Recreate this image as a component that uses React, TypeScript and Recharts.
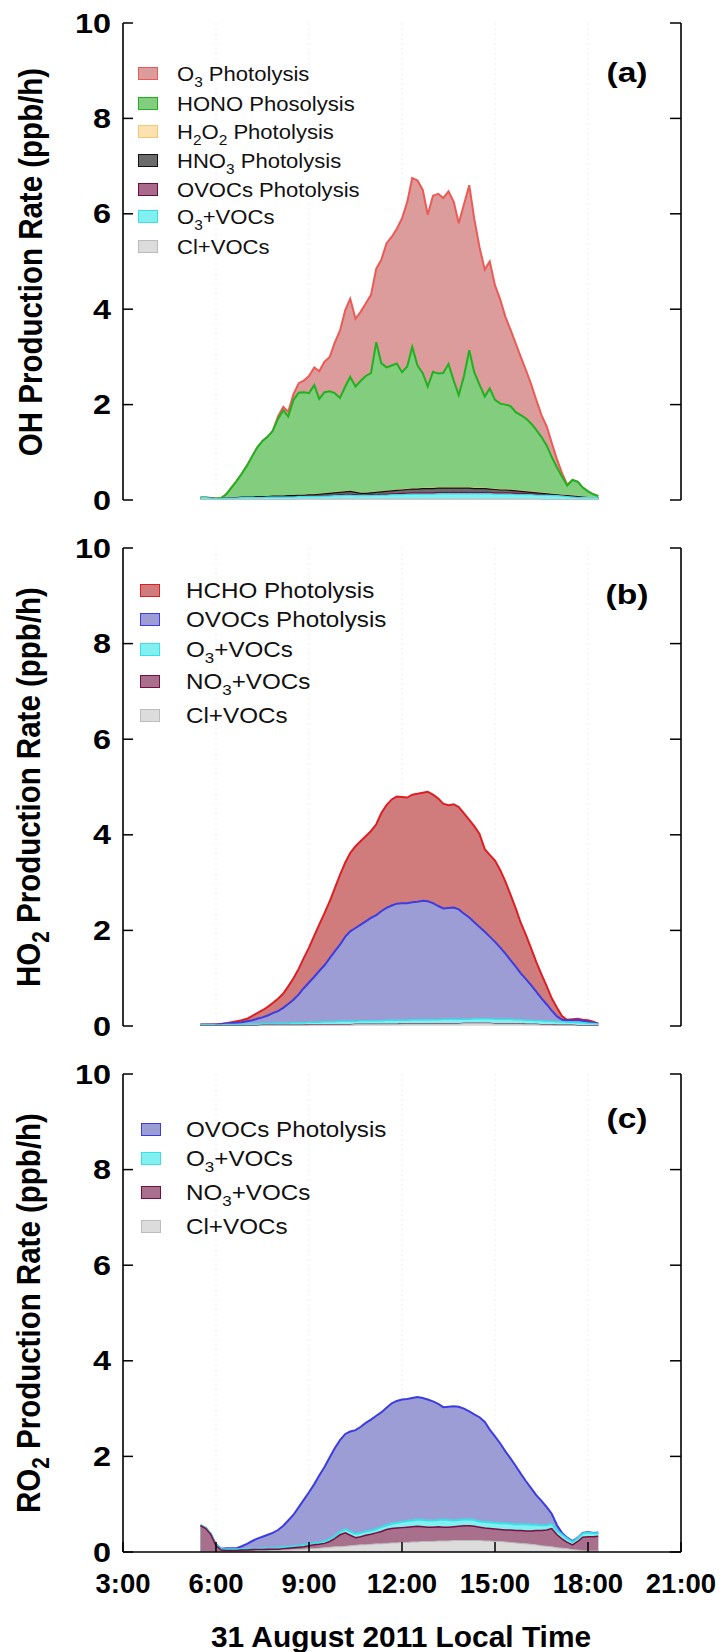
import { AreaChart, Area, XAxis, YAxis, CartesianGrid } from 'recharts';

// time of day in hours (10-min steps), shared by all three panels
const hours = [
  5.5, 5.67, 5.83,
  6, 6.17, 6.33, 6.5, 6.67, 6.83,
  7, 7.17, 7.33, 7.5, 7.67, 7.83,
  8, 8.17, 8.33, 8.5, 8.67, 8.83,
  9, 9.17, 9.33, 9.5, 9.67, 9.83,
  10, 10.17, 10.33, 10.5, 10.67, 10.83,
  11, 11.17, 11.33, 11.5, 11.67, 11.83,
  12, 12.17, 12.33, 12.5, 12.67, 12.83,
  13, 13.17, 13.33, 13.5, 13.67, 13.83,
  14, 14.17, 14.33, 14.5, 14.67, 14.83,
  15, 15.17, 15.33, 15.5, 15.67, 15.83,
  16, 16.17, 16.33, 16.5, 16.67, 16.83,
  17, 17.17, 17.33, 17.5, 17.67, 17.83,
  18, 18.17, 18.33,
];

const timeTicks = [3, 6, 9, 12, 15, 18, 21];
const timeLabels = ['3:00', '6:00', '9:00', '12:00', '15:00', '18:00', '21:00'];
const rateTicks = [0, 2, 4, 6, 8, 10];

// values are the stacked top of each layer (ppb/h)
// (a) OH
const ohO3Phot = [
  0.05, 0.05, 0.04,
  0.03, 0.04, 0.12, 0.26, 0.4, 0.55,
  0.72, 0.92, 1.1, 1.24, 1.33, 1.45,
  1.75, 1.95, 1.85, 2.22, 2.45, 2.5,
  2.6, 2.78, 2.7, 2.9, 3.0, 3.3,
  3.55, 3.98, 4.22, 3.8, 3.95, 4.12,
  4.3, 4.85, 5.03, 5.38, 5.52, 5.68,
  5.9, 6.25, 6.75, 6.7, 6.5, 5.98,
  6.38, 6.42, 6.33, 6.47, 6.25, 5.8,
  6.2, 6.6, 5.9, 5.3, 4.83, 5.0,
  4.5, 4.2, 3.85, 3.57, 3.28, 3.0,
  2.72, 2.42, 2.1, 1.78, 1.54, 1.2,
  0.85, 0.55, 0.32, 0.42, 0.38, 0.26,
  0.18, 0.12, 0.08,
];
const ohHono = [
  0.05, 0.05, 0.04,
  0.03, 0.04, 0.12, 0.26, 0.4, 0.55,
  0.72, 0.92, 1.1, 1.24, 1.33, 1.45,
  1.7, 1.88, 1.75, 2.1, 2.25, 2.26,
  2.24, 2.41, 2.12, 2.26, 2.28, 2.24,
  2.14, 2.38, 2.58, 2.38, 2.5, 2.6,
  2.66, 3.31, 2.87, 2.78, 2.82, 2.86,
  2.68, 2.8, 3.21, 2.82, 2.66, 2.38,
  2.69, 2.65, 2.66, 2.85, 2.5, 2.2,
  2.6, 3.14, 2.68, 2.42, 2.17, 2.34,
  2.1, 2.02, 2.0, 1.97, 1.84, 1.78,
  1.71, 1.6, 1.47, 1.32, 1.14, 0.9,
  0.68, 0.48, 0.3, 0.42, 0.38, 0.26,
  0.18, 0.12, 0.08,
];
const ohH2o2 = [
  0.05, 0.05, 0.04,
  0.03, 0.03, 0.04, 0.05, 0.05, 0.06,
  0.06, 0.06, 0.07, 0.07, 0.07, 0.08,
  0.08, 0.08, 0.09, 0.09, 0.1, 0.1,
  0.11, 0.11, 0.12, 0.13, 0.14, 0.16,
  0.17, 0.18, 0.19, 0.17, 0.15, 0.15,
  0.16, 0.17, 0.18, 0.19, 0.2, 0.21,
  0.22, 0.23, 0.24, 0.24, 0.25, 0.25,
  0.25, 0.26, 0.26, 0.26, 0.26, 0.26,
  0.26, 0.26, 0.25, 0.25, 0.25, 0.24,
  0.23, 0.22, 0.22, 0.21, 0.2, 0.19,
  0.18, 0.17, 0.16, 0.15, 0.14, 0.13,
  0.12, 0.11, 0.1, 0.09, 0.08, 0.07,
  0.06, 0.06, 0.05,
];
const ohHno3 = [
  0.05, 0.05, 0.04,
  0.03, 0.03, 0.04, 0.05, 0.05, 0.06,
  0.06, 0.06, 0.07, 0.07, 0.07, 0.08,
  0.08, 0.08, 0.09, 0.09, 0.1, 0.1,
  0.11, 0.11, 0.12, 0.13, 0.14, 0.15,
  0.16, 0.17, 0.18, 0.16, 0.14, 0.14,
  0.15, 0.16, 0.17, 0.18, 0.19, 0.2,
  0.21, 0.22, 0.23, 0.23, 0.24, 0.24,
  0.24, 0.25, 0.25, 0.25, 0.25, 0.25,
  0.25, 0.25, 0.24, 0.24, 0.24, 0.23,
  0.22, 0.21, 0.21, 0.2, 0.19, 0.18,
  0.17, 0.16, 0.15, 0.14, 0.13, 0.12,
  0.11, 0.1, 0.09, 0.08, 0.07, 0.06,
  0.05, 0.05, 0.05,
];
const ohOvoc = [
  0.05, 0.05, 0.04,
  0.03, 0.03, 0.04, 0.05, 0.05, 0.05,
  0.05, 0.05, 0.06, 0.06, 0.06, 0.06,
  0.06, 0.06, 0.07, 0.07, 0.07, 0.07,
  0.08, 0.08, 0.08, 0.09, 0.1, 0.1,
  0.11, 0.12, 0.12, 0.11, 0.1, 0.1,
  0.11, 0.11, 0.12, 0.12, 0.13, 0.13,
  0.14, 0.14, 0.15, 0.15, 0.15, 0.15,
  0.15, 0.16, 0.16, 0.16, 0.16, 0.16,
  0.16, 0.16, 0.16, 0.16, 0.16, 0.16,
  0.15, 0.15, 0.15, 0.15, 0.14, 0.14,
  0.13, 0.13, 0.12, 0.12, 0.11, 0.1,
  0.1, 0.09, 0.08, 0.07, 0.06, 0.05,
  0.05, 0.05, 0.05,
];
const ohO3Voc = [
  0.05, 0.05, 0.04,
  0.03, 0.03, 0.04, 0.04, 0.04, 0.05,
  0.05, 0.05, 0.05, 0.05, 0.06, 0.06,
  0.06, 0.06, 0.06, 0.06, 0.07, 0.07,
  0.07, 0.07, 0.07, 0.08, 0.08, 0.09,
  0.09, 0.1, 0.1, 0.09, 0.09, 0.09,
  0.09, 0.1, 0.1, 0.1, 0.11, 0.11,
  0.11, 0.12, 0.12, 0.12, 0.12, 0.12,
  0.12, 0.13, 0.13, 0.13, 0.13, 0.13,
  0.13, 0.13, 0.13, 0.13, 0.13, 0.13,
  0.12, 0.12, 0.12, 0.12, 0.11, 0.11,
  0.11, 0.11, 0.1, 0.1, 0.1, 0.09,
  0.09, 0.08, 0.07, 0.06, 0.05, 0.05,
  0.05, 0.05, 0.05,
];
const ohClVoc = [
  0.01, 0.01, 0.01,
  0.01, 0.01, 0.01, 0.01, 0.01, 0.01,
  0.01, 0.01, 0.01, 0.01, 0.01, 0.01,
  0.01, 0.01, 0.01, 0.01, 0.02, 0.02,
  0.02, 0.02, 0.02, 0.02, 0.02, 0.02,
  0.02, 0.02, 0.02, 0.02, 0.02, 0.02,
  0.02, 0.02, 0.02, 0.02, 0.02, 0.02,
  0.02, 0.02, 0.02, 0.02, 0.02, 0.02,
  0.02, 0.02, 0.02, 0.02, 0.02, 0.02,
  0.02, 0.02, 0.02, 0.02, 0.02, 0.02,
  0.02, 0.02, 0.02, 0.02, 0.02, 0.02,
  0.02, 0.02, 0.02, 0.01, 0.01, 0.01,
  0.01, 0.01, 0.01, 0.01, 0.01, 0.01,
  0.01, 0.01, 0.01,
];

// (b) HO2
const ho2Hcho = [
  0.03, 0.03, 0.03,
  0.03, 0.04, 0.06, 0.08, 0.1, 0.12,
  0.15, 0.21, 0.27, 0.33, 0.4, 0.48,
  0.57, 0.68, 0.83, 1.0, 1.2, 1.42,
  1.64, 1.89, 2.12, 2.36, 2.61, 2.88,
  3.16, 3.42, 3.62, 3.76, 3.87, 3.97,
  4.08, 4.22, 4.45, 4.62, 4.74, 4.8,
  4.79, 4.78, 4.84, 4.86, 4.88, 4.9,
  4.84, 4.76, 4.65, 4.62, 4.64, 4.58,
  4.45, 4.31, 4.18, 4.02, 3.7, 3.58,
  3.46, 3.26, 3.03, 2.75, 2.46, 2.16,
  1.9, 1.62, 1.34, 1.08, 0.83, 0.58,
  0.38, 0.2, 0.13, 0.14, 0.15, 0.13,
  0.12, 0.09, 0.05,
];
const ho2Ovoc = [
  0.03, 0.03, 0.03,
  0.03, 0.04, 0.05, 0.06, 0.07, 0.08,
  0.1, 0.12, 0.15, 0.18, 0.22, 0.27,
  0.31, 0.38, 0.46, 0.55, 0.66, 0.79,
  0.91, 1.03, 1.15, 1.27, 1.42, 1.56,
  1.7, 1.87, 1.98, 2.05, 2.12, 2.19,
  2.26, 2.32, 2.4, 2.47, 2.52, 2.56,
  2.57, 2.57, 2.59, 2.6, 2.62, 2.61,
  2.57, 2.51, 2.46, 2.47, 2.48, 2.44,
  2.35, 2.27, 2.17, 2.07, 1.97, 1.87,
  1.76, 1.64, 1.52, 1.38, 1.24, 1.1,
  0.98, 0.85, 0.72, 0.58, 0.45, 0.32,
  0.2, 0.13, 0.12, 0.12, 0.13, 0.11,
  0.09, 0.07, 0.05,
];
const ho2O3Voc = [
  0.03, 0.03, 0.03,
  0.02, 0.02, 0.03, 0.03, 0.03, 0.03,
  0.04, 0.04, 0.04, 0.05, 0.05, 0.05,
  0.06, 0.06, 0.06, 0.07, 0.07, 0.07,
  0.08, 0.08, 0.08, 0.09, 0.09, 0.09,
  0.1, 0.1, 0.1, 0.1, 0.11, 0.11,
  0.11, 0.11, 0.11, 0.12, 0.12, 0.12,
  0.12, 0.12, 0.13, 0.13, 0.13, 0.13,
  0.13, 0.13, 0.14, 0.14, 0.14, 0.14,
  0.14, 0.14, 0.15, 0.15, 0.15, 0.15,
  0.14, 0.14, 0.14, 0.14, 0.13, 0.13,
  0.12, 0.12, 0.11, 0.11, 0.1, 0.1,
  0.09, 0.09, 0.08, 0.08, 0.07, 0.07,
  0.06, 0.05, 0.04,
];
const ho2No3Voc = [
  0.01, 0.01, 0.01,
  0.01, 0.01, 0.01, 0.01, 0.01, 0.01,
  0.01, 0.01, 0.01, 0.02, 0.02, 0.02,
  0.02, 0.02, 0.02, 0.02, 0.02, 0.02,
  0.03, 0.03, 0.03, 0.03, 0.03, 0.03,
  0.03, 0.03, 0.03, 0.04, 0.04, 0.04,
  0.04, 0.04, 0.04, 0.04, 0.04, 0.04,
  0.05, 0.05, 0.05, 0.05, 0.05, 0.05,
  0.05, 0.05, 0.05, 0.05, 0.05, 0.05,
  0.06, 0.06, 0.06, 0.06, 0.06, 0.06,
  0.05, 0.05, 0.05, 0.05, 0.05, 0.05,
  0.04, 0.04, 0.04, 0.03, 0.03, 0.03,
  0.02, 0.02, 0.02, 0.02, 0.01, 0.01,
  0.01, 0.01, 0.01,
];
const ho2ClVoc = [
  0, 0, 0,
  0, 0, 0, 0, 0, 0,
  0, 0, 0, 0.01, 0.01, 0.01,
  0.01, 0.01, 0.01, 0.01, 0.01, 0.01,
  0.02, 0.02, 0.02, 0.02, 0.02, 0.02,
  0.02, 0.02, 0.02, 0.03, 0.03, 0.03,
  0.03, 0.03, 0.03, 0.03, 0.03, 0.03,
  0.04, 0.04, 0.04, 0.04, 0.04, 0.04,
  0.04, 0.04, 0.04, 0.04, 0.04, 0.04,
  0.05, 0.05, 0.05, 0.05, 0.05, 0.05,
  0.04, 0.04, 0.04, 0.04, 0.04, 0.04,
  0.03, 0.03, 0.03, 0.02, 0.02, 0.02,
  0.01, 0.01, 0.01, 0.01, 0, 0,
  0, 0, 0,
];

// (c) RO2
const ro2Ovoc = [
  0.56, 0.5, 0.38,
  0.16, 0.07, 0.08, 0.08, 0.08, 0.12,
  0.17, 0.23, 0.28, 0.32, 0.36, 0.4,
  0.46, 0.55, 0.66, 0.78, 0.94, 1.09,
  1.25, 1.42, 1.6, 1.78, 1.98, 2.17,
  2.34, 2.47, 2.52, 2.55, 2.62, 2.7,
  2.77, 2.85, 2.92, 3.02, 3.11, 3.16,
  3.19, 3.2, 3.22, 3.24, 3.22, 3.19,
  3.15, 3.1, 3.03, 3.04, 3.05, 3.04,
  3.0, 2.94, 2.88, 2.82, 2.72, 2.56,
  2.42, 2.27, 2.11, 1.96, 1.8, 1.64,
  1.48, 1.33, 1.19, 1.07, 0.94, 0.8,
  0.56, 0.39, 0.3, 0.23, 0.3, 0.4,
  0.42, 0.4, 0.41,
];
const ro2O3Voc = [
  0.56, 0.5, 0.38,
  0.15, 0.06, 0.06, 0.06, 0.06, 0.06,
  0.07, 0.07, 0.07, 0.08, 0.08, 0.08,
  0.09, 0.1, 0.11, 0.12, 0.13, 0.15,
  0.17, 0.19, 0.2, 0.23, 0.27, 0.33,
  0.42, 0.48, 0.43, 0.38, 0.4, 0.43,
  0.45, 0.48, 0.52, 0.56, 0.59, 0.61,
  0.63, 0.65, 0.66, 0.68, 0.67, 0.66,
  0.66, 0.67, 0.68, 0.67, 0.66, 0.67,
  0.68, 0.68, 0.67, 0.64, 0.63, 0.62,
  0.61, 0.6, 0.6, 0.59, 0.58, 0.58,
  0.58, 0.57, 0.57, 0.56, 0.56, 0.59,
  0.45, 0.36, 0.28, 0.21, 0.29, 0.39,
  0.41, 0.39, 0.4,
];
const ro2No3Voc = [
  0.55, 0.49, 0.37,
  0.13, 0.04, 0.03, 0.03, 0.03, 0.04,
  0.04, 0.05, 0.05, 0.05, 0.06, 0.06,
  0.06, 0.07, 0.08, 0.09, 0.1, 0.11,
  0.13, 0.15, 0.16, 0.18, 0.22, 0.28,
  0.36, 0.4, 0.35, 0.3, 0.32, 0.35,
  0.37, 0.4, 0.43, 0.47, 0.49, 0.5,
  0.51, 0.52, 0.53, 0.54, 0.53, 0.52,
  0.52, 0.53, 0.52, 0.52, 0.53, 0.54,
  0.55, 0.55, 0.54, 0.52, 0.5, 0.49,
  0.48, 0.47, 0.46, 0.46, 0.45, 0.45,
  0.44, 0.44, 0.45, 0.45, 0.46, 0.49,
  0.36, 0.27, 0.2, 0.15, 0.22, 0.31,
  0.32, 0.32, 0.33,
];
const ro2ClVoc = [
  0.01, 0.01, 0.01,
  0.01, 0.01, 0.01, 0.01, 0.01, 0.01,
  0.01, 0.01, 0.02, 0.02, 0.02, 0.03,
  0.03, 0.04, 0.04, 0.05, 0.05, 0.06,
  0.07, 0.07, 0.08, 0.09, 0.1, 0.11,
  0.11, 0.12, 0.13, 0.14, 0.15, 0.15,
  0.16, 0.17, 0.17, 0.18, 0.19, 0.19,
  0.2, 0.2, 0.21, 0.21, 0.22, 0.22,
  0.22, 0.23, 0.23, 0.23, 0.24, 0.24,
  0.24, 0.24, 0.24, 0.24, 0.23, 0.23,
  0.22, 0.22, 0.21, 0.2, 0.19, 0.18,
  0.17, 0.16, 0.15, 0.13, 0.12, 0.11,
  0.09, 0.08, 0.07, 0.05, 0.04, 0.03,
  0.02, 0.02, 0.02,
];

const FONT = '"Liberation Sans", Arial, Helvetica, sans-serif';

type Series = { key: string; label: string; values: number[]; fill: string; stroke: string; width: number };

const CYAN = { fill: '#82eff0', stroke: '#3adfe6' };
const GREY = { fill: '#dcdcdc', stroke: '#bcbcbc' };

const ohSeries: Series[] = [
  { key: 'o3', label: 'O_3 Photolysis', values: ohO3Phot, fill: '#dc9c9c', stroke: '#ec5a56', width: 2 },
  { key: 'hono', label: 'HONO Phosolysis', values: ohHono, fill: '#82cd7e', stroke: '#1fb21f', width: 2 },
  { key: 'h2o2', label: 'H_2O_2 Photolysis', values: ohH2o2, fill: '#fbe2b0', stroke: '#f2c57a', width: 1 },
  { key: 'hno3', label: 'HNO_3 Photolysis', values: ohHno3, fill: '#6b6b6b', stroke: '#111', width: 1.2 },
  { key: 'ovoc', label: 'OVOCs Photolysis', values: ohOvoc, fill: '#a8698c', stroke: '#6b0d3d', width: 1 },
  { key: 'o3voc', label: 'O_3+VOCs', values: ohO3Voc, ...CYAN, width: 1.2 },
  { key: 'cl', label: 'Cl+VOCs', values: ohClVoc, ...GREY, width: 1 },
];
const ho2Series: Series[] = [
  { key: 'hcho', label: 'HCHO Photolysis', values: ho2Hcho, fill: '#d07c7c', stroke: '#dd1f24', width: 2 },
  { key: 'ovoc', label: 'OVOCs Photolysis', values: ho2Ovoc, fill: '#9d9dd6', stroke: '#3c3ce0', width: 2 },
  { key: 'o3voc', label: 'O_3+VOCs', values: ho2O3Voc, ...CYAN, width: 1.5 },
  { key: 'no3voc', label: 'NO_3+VOCs', values: ho2No3Voc, fill: '#a8708c', stroke: '#760f3f', width: 1 },
  { key: 'cl', label: 'Cl+VOCs', values: ho2ClVoc, ...GREY, width: 1 },
];
const ro2Series: Series[] = [
  { key: 'ovoc', label: 'OVOCs Photolysis', values: ro2Ovoc, fill: '#9d9dd6', stroke: '#3c3ce0', width: 2 },
  { key: 'o3voc', label: 'O_3+VOCs', values: ro2O3Voc, ...CYAN, width: 2 },
  { key: 'no3voc', label: 'NO_3+VOCs', values: ro2No3Voc, fill: '#a8708c', stroke: '#760f3f', width: 1.5 },
  { key: 'cl', label: 'Cl+VOCs', values: ro2ClVoc, ...GREY, width: 1 },
];

function buildRows(series: Series[]) {
  return hours.map((t, i) => {
    const row: Record<string, number> = { t };
    series.forEach((s) => (row[s.key] = s.values[i]));
    return row;
  });
}

function Chem({ text }: { text: string }) {
  const parts = text.split(/_(\d)/);
  return (
    <>
      {parts.map((p, i) =>
        i % 2 ? (
          <span key={i} style={{ fontSize: '0.7em', position: 'relative', top: '0.38em' }}>{p}</span>
        ) : (
          <span key={i}>{p}</span>
        )
      )}
    </>
  );
}

const LeftTick = (props: any) => {
  const { x, y, payload } = props;
  return (
    <g>
      <line x1={x} y1={y} x2={x + 10} y2={y} stroke="#000" strokeWidth={1.5} />
      <text
        transform={`translate(${x - 12},${y}) scale(1.2,1)`}
        textAnchor="end"
        dominantBaseline="central"
        fontFamily={FONT}
        fontWeight={700}
        fontSize={27}
        fill="#000"
      >
        {payload.value}
      </text>
    </g>
  );
};
const RightTick = (props: any) => {
  const { x, y } = props;
  return <line x1={x} y1={y} x2={x - 11} y2={y} stroke="#000" strokeWidth={1.5} />;
};
const TopTick = (props: any) => {
  const { x, y } = props;
  return <line x1={x} y1={y} x2={x} y2={y + 10} stroke="#000" strokeWidth={1.5} />;
};
const makeBottomTick = (withLabel: boolean) => (props: any) => {
  const { x, y, payload } = props;
  return (
    <g>
      <line x1={x} y1={y} x2={x} y2={y - 10} stroke="#000" strokeWidth={1.5} />
      {withLabel && (
        <text x={x} y={y + 31} textAnchor="middle" dominantBaseline="central" fontFamily={FONT} fontWeight={700} fontSize={27.5} fill="#000">
          {timeLabels[timeTicks.indexOf(payload.value)]}
        </text>
      )}
    </g>
  );
};

type PanelProps = {
  series: Series[];
  top: number;
  height: number;
  marginTop: number;
  marginBottom: number;
  xHeight: number;
  showTime: boolean;
  title: string;
  tag: string;
  tagY: number;
  legendRows: number[];
  legendSwatchX: number;
  legendTextX: number;
  legendFont: number;
  legendStretch: number;
};

function Panel(p: PanelProps) {
  const data = buildRows(p.series);
  const axisLine = { stroke: '#000', strokeWidth: 1.6 };
  const plotTop = p.top + p.marginTop;
  const plotBottom = p.top + p.height - p.marginBottom - p.xHeight;
  return (
    <>
      <div style={{ position: 'absolute', left: 0, top: p.top }}>
        <AreaChart width={722} height={p.height} data={data} margin={{ top: p.marginTop, right: 0, left: 0, bottom: p.marginBottom }}>
          <CartesianGrid horizontal={false} stroke="#efefef" strokeDasharray="2 3" />
          <XAxis
            dataKey="t"
            type="number"
            domain={[3, 21]}
            ticks={timeTicks}
            interval={0}
            allowDataOverflow
            height={p.xHeight}
            tickSize={0}
            tickMargin={0}
            tickLine={false}
            axisLine={axisLine}
            tick={makeBottomTick(p.showTime)}
          />
          <XAxis
            xAxisId="top"
            orientation="top"
            dataKey="t"
            type="number"
            domain={[3, 21]}
            ticks={timeTicks}
            interval={0}
            allowDataOverflow
            height={0}
            tickSize={0}
            tickMargin={0}
            tickLine={false}
            axisLine={axisLine}
            tick={TopTick}
          />
          <YAxis
            type="number"
            domain={[0, 10]}
            ticks={rateTicks}
            interval={0}
            allowDataOverflow
            width={123}
            tickSize={0}
            tickMargin={0}
            tickLine={false}
            axisLine={axisLine}
            tick={LeftTick}
          />
          <YAxis
            yAxisId="right"
            orientation="right"
            type="number"
            domain={[0, 10]}
            ticks={rateTicks}
            interval={0}
            allowDataOverflow
            width={41}
            tickSize={0}
            tickMargin={0}
            tickLine={false}
            axisLine={axisLine}
            tick={RightTick}
          />
          {p.series.map((s) => (
            <Area
              key={s.key}
              type="linear"
              dataKey={s.key}
              stroke={s.stroke}
              strokeWidth={s.width}
              fill={s.fill}
              fillOpacity={1}
              dot={false}
              activeDot={false}
              isAnimationActive={false}
            />
          ))}
        </AreaChart>
      </div>

      {/* y-axis title */}
      <div
        style={{
          position: 'absolute',
          left: 30,
          top: (plotTop + plotBottom) / 2,
          transform: 'translate(-50%,-50%) rotate(-90deg) scaleY(1.15)',
          whiteSpace: 'nowrap',
          fontFamily: FONT,
          fontWeight: 700,
          fontSize: 29.5,
          lineHeight: '32px',
        }}
      >
        <Chem text={p.title} />
      </div>

      {/* panel tag */}
      <div
        style={{
          position: 'absolute',
          left: 627,
          top: p.tagY,
          transform: 'translate(-50%,-50%) scaleX(1.2)',
          fontFamily: FONT,
          fontWeight: 700,
          fontSize: 28,
          lineHeight: '32px',
        }}
      >
        {p.tag}
      </div>

      {/* legend */}
      {p.series.map((s, i) => (
        <div key={s.key}>
          <div
            style={{
              position: 'absolute',
              left: p.legendSwatchX,
              top: p.legendRows[i] - 7,
              width: 18,
              height: 11,
              background: s.fill,
              border: `1.6px solid ${s.stroke}`,
            }}
          />
          <div
            style={{
              position: 'absolute',
              left: p.legendTextX,
              top: p.legendRows[i] - 14,
              height: 28,
              lineHeight: '28px',
              whiteSpace: 'nowrap',
              fontFamily: FONT,
              fontSize: p.legendFont,
              color: '#111',
              transform: `scaleX(${p.legendStretch})`,
              transformOrigin: 'left center',
            }}
          >
            <Chem text={s.label} />
          </div>
        </div>
      ))}
    </>
  );
}

export default function App() {
  return (
    <div style={{ position: 'relative', width: 722, height: 1652, background: '#fff', overflow: 'hidden' }}>
      <style>{'body{margin:0;background:#fff}'}</style>
      <Panel
        series={ohSeries}
        top={0}
        height={520}
        marginTop={23}
        marginBottom={20}
        xHeight={0}
        showTime={false}
        title="OH Production Rate (ppb/h)"
        tag="(a)"
        tagY={73}
        legendRows={[74, 104, 132, 161, 190, 217, 247]}
        legendSwatchX={138}
        legendTextX={177}
        legendFont={21}
        legendStretch={1.05}
      />
      <Panel
        series={ho2Series}
        top={520}
        height={520}
        marginTop={28}
        marginBottom={14}
        xHeight={0}
        showTime={false}
        title="HO_2 Production Rate (ppb/h)"
        tag="(b)"
        tagY={595}
        legendRows={[591, 620, 650, 682, 716]}
        legendSwatchX={140}
        legendTextX={186}
        legendFont={22}
        legendStretch={1.1}
      />
      <Panel
        series={ro2Series}
        top={1040}
        height={612}
        marginTop={34}
        marginBottom={60}
        xHeight={40}
        showTime={true}
        title="RO_2 Production Rate (ppb/h)"
        tag="(c)"
        tagY={1119}
        legendRows={[1130, 1159, 1193, 1227]}
        legendSwatchX={141}
        legendTextX={186}
        legendFont={22}
        legendStretch={1.1}
      />
      <div
        style={{
          position: 'absolute',
          left: 401,
          top: 1637,
          transform: 'translate(-50%,-50%) scaleX(1.03)',
          whiteSpace: 'nowrap',
          fontFamily: FONT,
          fontWeight: 700,
          fontSize: 29,
          lineHeight: '32px',
        }}
      >
        31 August 2011 Local Time
      </div>
    </div>
  );
}
